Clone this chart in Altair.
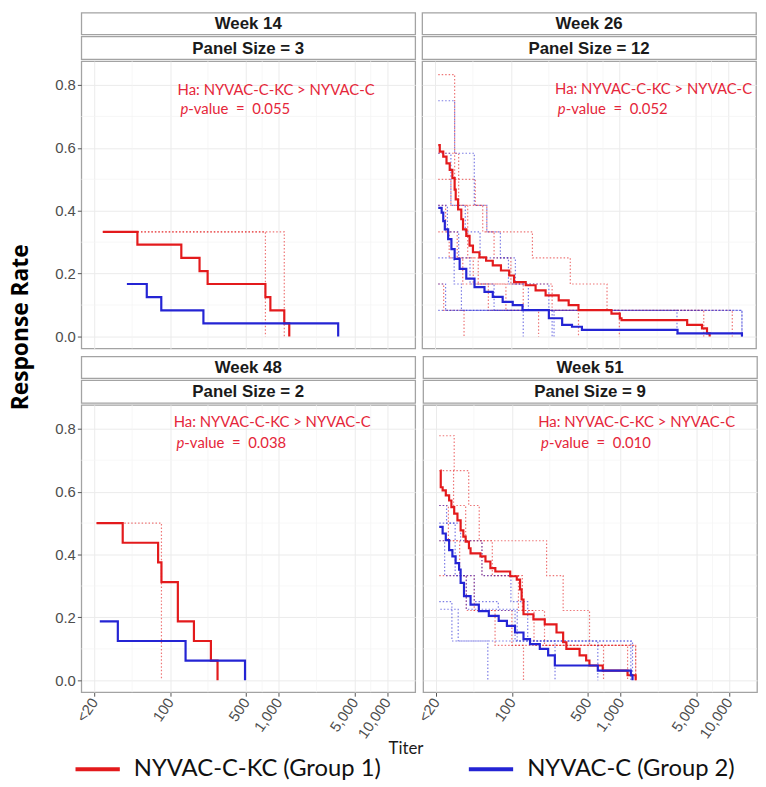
import altair as alt
import pandas as pd

GROUPS = ["NYVAC-C-KC (Group 1)", "NYVAC-C (Group 2)"]
COLORS = ["#E31A1C", "#2424D4"]
WEEKS = ["Week 14", "Week 26", "Week 48", "Week 51"]
PANEL_SIZES = [3, 12, 2, 9]
P_VALUES = ["0.055", "0.052", "0.038", "0.010"]
HYPOTHESIS = "Ha: NYVAC-C-KC > NYVAC-C"

X_TICKS = [20, 100, 500, 1000, 5000, 10000]
X_MINOR = [44.7, 223.6, 707.1, 2236, 7071]
Y_TICKS = [0.0, 0.2, 0.4, 0.6, 0.8]
Y_MINOR = [0.1, 0.3, 0.5, 0.7]

# mean response-rate curves: (titer where a step starts, response rate)
W14_G1 = [(24, 0.333), (50, 0.292), (127, 0.25), (187, 0.208), (222, 0.167),
          (757, 0.125), (841, 0.083), (1130, 0.042), (1256, 0.0)]
W14_G2 = [(40, 0.167), (61, 0.125), (83, 0.083), (203, 0.042), (3548, 0.0)]
W14_G1_ANT = [[(24, 0.333), (757, 0.0)], [(24, 0.333), (1130, 0.0)]]
W14_G2_ANT = []

W26_G1 = [(21.4, 0.609), (22.1, 0.588), (23.8, 0.572), (25.5, 0.551), (27.3, 0.530),
          (28.9, 0.504), (30.3, 0.467), (31.0, 0.436), (32.6, 0.404), (34.9, 0.373),
          (36.2, 0.341), (38.8, 0.320), (41.6, 0.289), (44.7, 0.268), (51.3, 0.252),
          (59.1, 0.241), (68.1, 0.226), (81.0, 0.210), (96.5, 0.194), (107, 0.173),
          (137, 0.163), (169, 0.147), (209, 0.131), (276, 0.115), (341, 0.100),
          (420, 0.084), (846, 0.073), (1010, 0.058), (1047, 0.052), (4220, 0.037),
          (5780, 0.026), (6430, 0.010), (6800, 0.0)]
W26_G2 = [(21.4, 0.409), (23.0, 0.394), (23.8, 0.367), (24.6, 0.341), (26.4, 0.310),
          (28.3, 0.278), (30.3, 0.247), (33.7, 0.215), (38.8, 0.184), (46.2, 0.157),
          (57.1, 0.142), (68.1, 0.126), (84.0, 0.110), (104, 0.100), (128, 0.084),
          (224, 0.058), (297, 0.037), (366, 0.031), (452, 0.021), (3440, 0.010),
          (13500, 0.0)]
W26_G1_ANT = [
    [(21.4, 0.833), (30.3, 0.5), (47, 0.417), (60, 0.333), (158, 0.25), (353, 0.167), (770, 0.083), (11000, 0.0)],
    [(21.4, 0.583), (33, 0.417), (55, 0.333), (70, 0.25), (100, 0.167), (240, 0.083), (1000, 0.0)],
    [(21.4, 0.5), (28, 0.417), (40, 0.25), (50, 0.167), (130, 0.083), (420, 0.0)],
    [(21.4, 0.417), (25, 0.333), (32, 0.25), (45, 0.167), (90, 0.083), (6000, 0.0)],
    [(21.4, 0.333), (27, 0.25), (36, 0.167), (62, 0.083), (180, 0.0)],
    [(21.4, 0.167), (24, 0.083), (37, 0.0)],
]
W26_G2_ANT = [
    [(21.4, 0.75), (30.3, 0.583), (46, 0.417), (60, 0.333), (80, 0.25), (110, 0.167), (145, 0.083), (250, 0.0)],
    [(21.4, 0.583), (28, 0.417), (38, 0.333), (52, 0.25), (95, 0.167), (224, 0.083), (13500, 0.0)],
    [(21.4, 0.417), (26, 0.333), (33, 0.25), (42, 0.167), (70, 0.083), (130, 0.0)],
    [(21.4, 0.25), (30, 0.167), (35, 0.083), (240, 0.0)],
    [(21.4, 0.167), (25, 0.083), (3400, 0.0)],
    [(21.4, 0.083), (13500, 0.0)],
]

W48_G1 = [(21, 0.5), (36.6, 0.4375), (77.6, 0.375), (83.3, 0.3125), (118, 0.1875),
          (166, 0.125), (238, 0.0625), (274, 0.0)]
W48_G2 = [(22.5, 0.1875), (33, 0.125), (139, 0.0625), (491, 0.0)]
W48_G1_ANT = [[(21, 0.5), (83.3, 0.0)]]
W48_G2_ANT = []

W51_G1 = [(21.9, 0.667), (22.1, 0.614), (23.0, 0.604), (24.6, 0.588), (26.4, 0.572),
          (27.7, 0.551), (29.4, 0.530), (31.5, 0.509), (33.7, 0.477), (35.7, 0.457),
          (37.5, 0.441), (40.2, 0.420), (41.6, 0.404), (51.3, 0.394), (57.1, 0.378),
          (63.4, 0.357), (70.4, 0.346), (96.5, 0.331), (111, 0.320), (119, 0.289),
          (123, 0.257), (128, 0.210), (158, 0.194), (201, 0.178), (258, 0.152),
          (297, 0.121), (318, 0.100), (421, 0.079), (484, 0.063), (519, 0.047),
          (688, 0.031), (1166, 0.016), (1385, 0.0)]
W51_G2 = [(21.4, 0.488), (23.0, 0.467), (24.6, 0.446), (26.4, 0.414), (28.3, 0.394),
          (30.3, 0.373), (32.6, 0.352), (33.7, 0.310), (36.2, 0.268), (41.6, 0.241),
          (49.6, 0.220), (61.3, 0.205), (75.6, 0.189), (90, 0.173), (107, 0.152),
          (128, 0.131), (147, 0.115), (181, 0.100), (216, 0.079), (249, 0.047),
          (620, 0.031), (1250, 0.016), (1295, 0.0)]
W51_G1_ANT = [
    [(21.4, 0.778), (29.4, 0.667), (40, 0.556), (50, 0.444), (66, 0.333), (125, 0.222), (200, 0.111), (1385, 0.0)],
    [(21.4, 0.667), (29, 0.556), (37.5, 0.444), (209, 0.333), (297, 0.222), (520, 0.111), (1166, 0.0)],
    [(21.4, 0.556), (26, 0.444), (53, 0.333), (115, 0.222), (160, 0.111), (700, 0.0)],
    [(21.4, 0.444), (33, 0.333), (45, 0.222), (100, 0.111), (1385, 0.0)],
    [(21.4, 0.333), (38, 0.222), (70, 0.111), (128, 0.0)],
]
W51_G2_ANT = [
    [(21.4, 0.556), (25, 0.5), (33.7, 0.444), (53, 0.333), (98, 0.25), (140, 0.125), (620, 0.0)],
    [(21.4, 0.5), (30, 0.333), (45, 0.25), (75, 0.222), (107, 0.125), (250, 0.0)],
    [(21.4, 0.444), (24, 0.333), (38, 0.226), (112, 0.125), (1250, 0.0)],
    [(21.4, 0.25), (28, 0.125), (60, 0.0)],
    [(21.9, 0.226), (32, 0.125), (1295, 0.0)],
]

CURVES = {
    "Week 14": (W14_G1, W14_G2, W14_G1_ANT, W14_G2_ANT),
    "Week 26": (W26_G1, W26_G2, W26_G1_ANT, W26_G2_ANT),
    "Week 48": (W48_G1, W48_G2, W48_G1_ANT, W48_G2_ANT),
    "Week 51": (W51_G1, W51_G2, W51_G1_ANT, W51_G2_ANT),
}

rows = []
def add(week, group, curve, kind, pts):
    for k, (t, r) in enumerate(pts):
        rows.append(dict(week=week, group=group, curve=curve, kind=kind, titer=t, rate=r, idx=k))

for week, (g1, g2, a1, a2) in CURVES.items():
    add(week, GROUPS[0], "mean1", "mean", g1)
    add(week, GROUPS[1], "mean2", "mean", g2)
    for j, c in enumerate(a1):
        add(week, GROUPS[0], f"a1_{j}", "antigen", c)
    for j, c in enumerate(a2):
        add(week, GROUPS[1], f"a2_{j}", "antigen", c)
df = pd.DataFrame(rows)

W = 337
H = 290
# (left x of p-value line, right x of hypothesis line, y line 1, y line 2)
ANN_POS = {"Week 14": (100, 296, 29, 48), "Week 26": (137, 333, 28, 48),
           "Week 48": (96, 292, 17, 38), "Week 51": (119, 315, 17, 38)}
XSCALE = alt.Scale(type="log", domain=[15.2, 18200], nice=False)
YSCALE = alt.Scale(domain=[-0.038, 0.876], nice=False, zero=False)
ANN_RED = "#E5263A"


def plot(i, show_x, show_y):
    week = WEEKS[i]
    if show_x:
        xaxis = alt.Axis(values=X_TICKS,
                         labelExpr="datum.value == 20 ? '<20' : format(datum.value, ',')",
                         labelAngle=-55, labelAlign="right", labelBaseline="middle",
                         labelPadding=3, labelOverlap=False, title=None)
    else:
        xaxis = alt.Axis(values=X_TICKS, labels=False, ticks=False, title=None)
    if show_y:
        yaxis = alt.Axis(values=Y_TICKS, format=".1f", title=None)
    else:
        yaxis = alt.Axis(values=Y_TICKS, labels=False, ticks=False, title=None)

    x = alt.X("titer:Q", scale=XSCALE, axis=xaxis)
    y = alt.Y("rate:Q", scale=YSCALE, axis=yaxis)

    d = df[df.week == week]
    mean = d[d.kind == "mean"]

    vminor = alt.Chart(pd.DataFrame({"titer": X_MINOR})).mark_rule(
        color="#F4F4F4", strokeWidth=0.7).encode(x=x)
    hminor = alt.Chart(pd.DataFrame({"rate": Y_MINOR})).mark_rule(
        color="#F4F4F4", strokeWidth=0.7).encode(y=y)

    layers = [vminor, hminor]
    for g, col in zip(GROUPS, COLORS):
        ant = d[(d.kind == "antigen") & (d.group == g)]
        if len(ant):
            layers.append(alt.Chart(ant).mark_line(
                interpolate="step-after", strokeDash=[1.5, 2], strokeWidth=1.2,
                opacity=0.6, color=col
            ).encode(x=x, y=y, detail="curve:N", order="idx:Q"))
    solid = alt.Chart(mean).mark_line(interpolate="step-after", strokeWidth=2.2).encode(
        x=x, y=y, detail="curve:N", order="idx:Q",
        color=alt.Color("group:N", scale=alt.Scale(domain=GROUPS, range=COLORS),
                        legend=alt.Legend(orient="none", legendX=-8, legendY=739,
                                          direction="horizontal", title=None,
                                          symbolType="stroke", symbolSize=2000,
                                          symbolStrokeWidth=4, labelFont="Lato",
                                          labelFontSize=24, labelColor="#111",
                                          labelLimit=0, columnPadding=80, labelOffset=12)),
    )
    layers.append(solid)

    ax, rx, y1, y2 = ANN_POS[week]
    ann = pd.DataFrame({"h": [HYPOTHESIS], "p": ["p"],
                        "v": ["-value\u00a0\u00a0=\u00a0\u00a0" + P_VALUES[i]]})
    t1 = alt.Chart(ann).mark_text(align="right", font="Lato", fontSize=15, color=ANN_RED).encode(
        text="h:N", x=alt.value(rx), y=alt.value(y1))
    t2 = alt.Chart(ann).mark_text(align="left", font="Lato", fontSize=15, fontStyle="italic",
                                  color=ANN_RED).encode(text="p:N", x=alt.value(ax), y=alt.value(y2))
    t3 = alt.Chart(ann).mark_text(align="left", font="Lato", fontSize=15, color=ANN_RED).encode(
        text="v:N", x=alt.value(ax + 8), y=alt.value(y2))
    layers += [t1, t2, t3]
    return alt.layer(*layers).properties(width=W, height=H)


def strip(label, h):
    return alt.Chart(pd.DataFrame({"t": [label]})).mark_text(
        font="Liberation Sans", fontWeight="bold", fontSize=17, color="#1A1A1A"
    ).encode(text="t:N", x=alt.value(W / 2), y=alt.value(h / 2 + 1)).properties(width=W, height=h)


def panel(i, show_x, show_y):
    return alt.vconcat(strip(WEEKS[i], 22), strip(f"Panel Size = {PANEL_SIZES[i]}", 23),
                       plot(i, show_x, show_y), spacing=0)


bottom_row = alt.hconcat(panel(2, True, True), panel(3, True, False), spacing=-1).properties(
    title=alt.TitleParams("Titer", orient="bottom", anchor="middle", font="Lato", fontSize=17,
                          fontWeight="normal", color="#1A1A1A", offset=0)
)

chart = alt.vconcat(
    alt.hconcat(panel(0, False, True), panel(1, False, False), spacing=5),
    bottom_row,
    spacing=6,
).properties(
    title=alt.TitleParams("Response Rate", orient="left", anchor="middle", font="Open Sans",
                          fontSize=23, fontWeight="bold", color="#000000", offset=21, dx=70),
    padding={"left": 2, "top": 0, "right": 0, "bottom": 0},
).configure_view(
    stroke="#A3A3A3", strokeWidth=1.3, fill="white"
).configure_axis(
    domain=False, tickColor="#555555", tickSize=4, labelColor="#4D4D4D",
    labelFont="Liberation Sans", labelFontSize=15, gridColor="#EBEBEB", gridWidth=1,
)

chart.save("out.html", embed_options={"renderer": "svg", "actions": False})
